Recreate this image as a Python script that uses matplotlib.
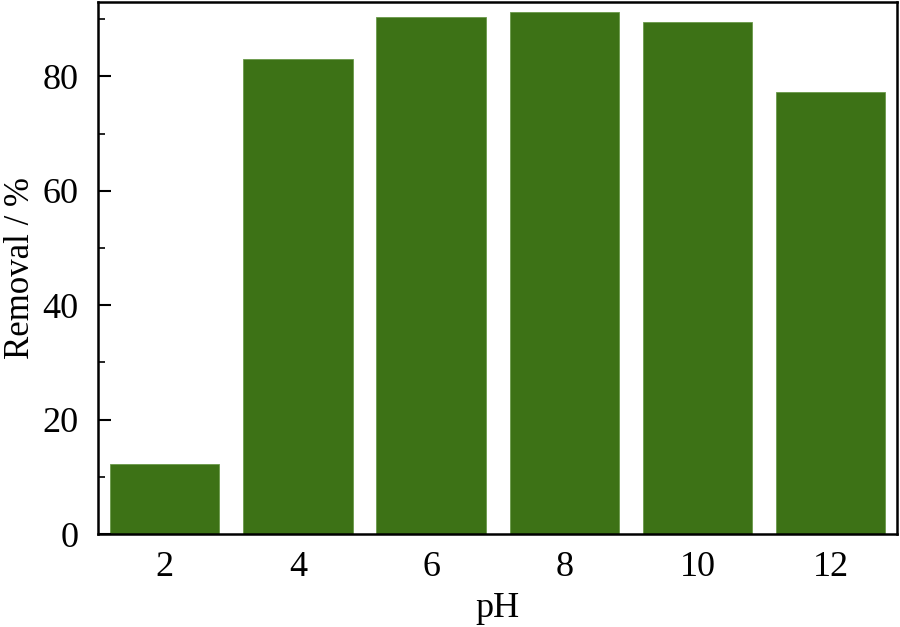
import matplotlib.pyplot as plt
from matplotlib.ticker import MultipleLocator

plt.rcParams['font.family'] = ['Liberation Serif', 'DejaVu Serif']

ph = ['2', '4', '6', '8', '10', '12']
removal = [12.3, 83.0, 90.3, 91.2, 89.5, 77.2]

fig = plt.figure(figsize=(9, 6.27), dpi=100)
ax = fig.add_axes([0.109, 0.148, 0.888, 0.849])

ax.bar(range(len(ph)), removal, width=0.82, color='#3d7216',
       edgecolor='#6a9a4a', linewidth=0.6)

ax.set_xlim(-0.5, 5.5)
ax.set_ylim(0, 93)
ax.set_xticks(range(len(ph)))
ax.set_xticklabels(ph)
ax.yaxis.set_major_locator(MultipleLocator(20))
ax.yaxis.set_minor_locator(MultipleLocator(10))
ax.tick_params(axis='y', which='major', direction='in', length=9, width=1.5,
               labelsize=26, pad=14)
ax.tick_params(axis='y', which='minor', direction='in', length=5, width=1.2)
ax.tick_params(axis='x', length=0, labelsize=26, pad=12)
for s in ax.spines.values():
    s.set_linewidth(1.8)

ax.set_xlabel('pH', fontsize=26, labelpad=6)
ax.set_ylabel('Removal / %', fontsize=25)
ax.yaxis.set_label_coords(-0.077, 0.5)

fig.savefig('out.png', dpi=100)
